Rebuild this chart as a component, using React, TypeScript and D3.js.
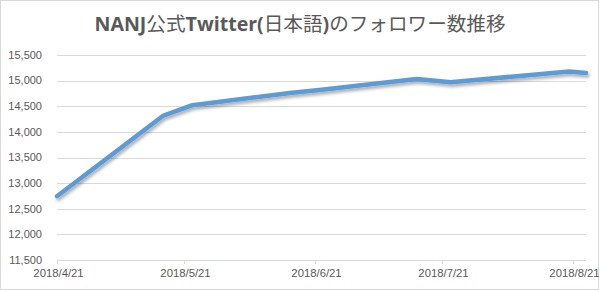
import React from "react";
import * as d3 from "d3";

const title = "NANJ公式Twitter(日本語)のフォロワー数推移";
const dates = ["2018-04-21", "2018-05-16", "2018-05-23", "2018-06-15", "2018-06-22", "2018-07-15", "2018-07-23", "2018-08-20", "2018-08-24"];
const followers = [12745, 14310, 14520, 14760, 14815, 15030, 14970, 15178, 15148];
const yTicks = [11500, 12000, 12500, 13000, 13500, 14000, 14500, 15000, 15500];
const xTickDates = ["2018-04-21", "2018-05-21", "2018-06-21", "2018-07-21", "2018-08-21"];
const xTickLabels = ["2018/4/21", "2018/5/21", "2018/6/21", "2018/7/21", "2018/8/21"];

const W = 601, H = 291;
const left = 57, right = 586, top = 55, bottom = 260;

export default function App() {
  const parse = d3.timeParse("%Y-%m-%d");
  const data = dates.map((d, i) => ({ date: parse(d) as Date, v: followers[i] }));
  const x = d3.scaleTime()
    .domain([parse("2018-04-21") as Date, parse("2018-08-24") as Date])
    .range([left, right]);
  const y = d3.scaleLinear().domain([11500, 15500]).range([bottom, top]);
  const line = d3.line<{ date: Date; v: number }>()
    .x(d => x(d.date))
    .y(d => y(d.v));
  const font = "'Liberation Sans', Arial, sans-serif";
  const grey = "#595959";
  const jp = "'Noto Sans CJK JP', sans-serif";
  const lat = "'Open Sans', 'Liberation Sans', sans-serif";
  return (
    <svg width={W} height={H} style={{ position: "absolute", left: 0, top: 0, background: "#fff" }}>
      <defs>
        <filter id="sh" x="-10%" y="-10%" width="120%" height="130%">
          <feDropShadow dx="1.5" dy="2.5" stdDeviation="1.5" floodColor="#000" floodOpacity="0.32" />
        </filter>
      </defs>
      <rect x={0.5} y={0.5} width={598} height={289} fill="#fff" stroke="#D9D9D9" />
      <text x={300} y={31} textAnchor="middle" fill={grey} fontSize={19.6}>
        <tspan fontFamily={lat} fontWeight="bold">NANJ</tspan>
        <tspan fontFamily={jp}>公式</tspan>
        <tspan fontFamily={lat} fontWeight="bold">Twitter(</tspan>
        <tspan fontFamily={jp}>日本語</tspan>
        <tspan fontFamily={lat} fontWeight="bold">)</tspan>
        <tspan fontFamily={jp}>のフォロワー数推移</tspan>
      </text>
      {yTicks.map(t => (
        <g key={t}>
          <line x1={left} x2={right} y1={Math.round(y(t)) + 0.5} y2={Math.round(y(t)) + 0.5} stroke="#D9D9D9" />
          <text x={42} y={y(t)} dy="0.35em" textAnchor="end" fontFamily={font} fontSize={11} fill={grey}>
            {d3.format(",")(t)}
          </text>
        </g>
      ))}
      {xTickDates.map((d, i) => {
        const xx = Math.round(x(parse(d) as Date)) + 0.5;
        return (
          <g key={d}>
            <line x1={xx} x2={xx} y1={bottom} y2={bottom + 4} stroke="#D9D9D9" />
            <text x={xx + 1} y={277} textAnchor="middle" fontFamily={font} fontSize={11.3} fill={grey}>
              {xTickLabels[i]}
            </text>
          </g>
        );
      })}
      <path d={line(data) || ""} fill="none" stroke="#5B9BD5" strokeWidth={4.5}
        strokeLinejoin="round" strokeLinecap="round" filter="url(#sh)" />
    </svg>
  );
}
